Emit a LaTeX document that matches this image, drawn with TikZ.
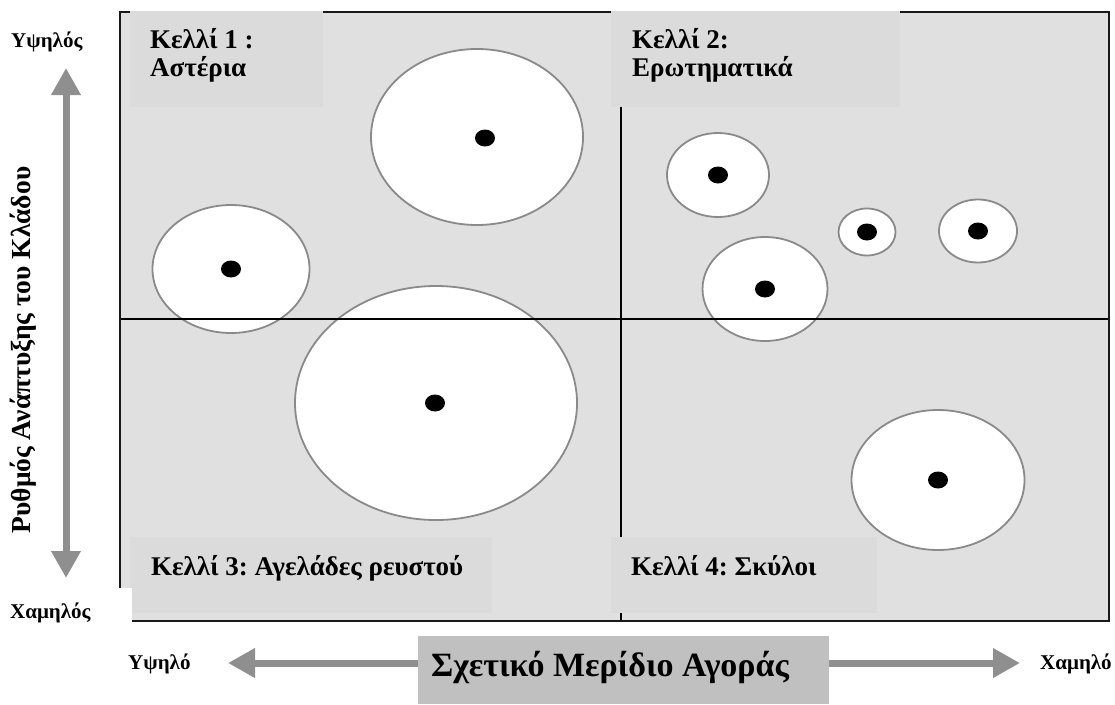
\documentclass[tikz,border=0pt]{standalone}
\usepackage{fontspec}
\setmainfont{Liberation Serif}[BoldFont={Liberation Serif Bold}]
\usetikzlibrary{arrows.meta,shapes.geometric}
\frenchspacing

\definecolor{panel}{HTML}{E0E0E0}
\definecolor{labelbox}{HTML}{DBDBDB}
\definecolor{rim}{HTML}{8A8A8A}
\definecolor{axisgray}{HTML}{8F8F8F}
\definecolor{titlegray}{HTML}{C0C0C0}

\begin{document}
\begin{tikzpicture}[x=1pt,y=-1pt,
  >={Triangle[length=27pt,width=28pt]},
  bubble/.style={ellipse, draw=rim, line width=1.8pt, fill=white, inner sep=0pt},
  seed/.style={ellipse, fill=black, minimum width=20pt, minimum height=17pt, inner sep=0pt},
  cellbox/.style={fill=labelbox},
  celltext/.style={font=\bfseries\fontsize{27}{30}\selectfont, anchor=base west, inner sep=0pt},
  sidetext/.style={font=\bfseries\fontsize{21}{24}\selectfont, anchor=base west, inner sep=0pt},
  axistext/.style={font=\bfseries\fontsize{27.5}{30}\selectfont, inner sep=0pt},
  axis/.style={draw=axisgray, line width=7pt, ->},
  divider/.style={draw=black, line width=2pt}
]
\useasboundingbox (0,0) rectangle (1115,704);

% matrix panel
\fill[panel] (120,12) rectangle (1109,621);

% business units
\node[bubble, minimum width=212, minimum height=176] (u1) at (477,137) {};
\node[bubble, minimum width=157, minimum height=128] (u2) at (231,269) {};
\node[bubble, minimum width=282, minimum height=234] (u3) at (436,403) {};
\node[bubble, minimum width=102, minimum height=84]  (u4) at (718,175) {};
\node[bubble, minimum width=57,  minimum height=47]  (u5) at (867,232) {};
\node[bubble, minimum width=78,  minimum height=63]  (u6) at (978,231) {};
\node[bubble, minimum width=125, minimum height=104] (u7) at (765,289) {};
\node[bubble, minimum width=173, minimum height=140] (u8) at (938,480) {};

\node[seed] (d1) at (485,138) {};
\node[seed] (d2) at (231,269) {};
\node[seed] (d3) at (435,403) {};
\node[seed] (d4) at (718,175) {};
\node[seed] (d5) at (867,232) {};
\node[seed] (d6) at (978,231) {};
\node[seed] (d7) at (765,289) {};
\node[seed] (d8) at (938,480) {};

% quadrant dividers and frame
\draw[divider] (120,319) -- (1109,319);
\draw[divider] (621,12) -- (621,621);
\draw[draw=black!90, line width=2.4pt] (120,12) rectangle (1109,621);

% cell labels
\fill[cellbox] (130,11) rectangle (323,107);
\fill[cellbox] (611,11) rectangle (900,107);
\fill[cellbox] (130,537) rectangle (492,613);
\fill[cellbox] (611,537) rectangle (877,613);

\node[celltext] (c1a) at (150,48) {Κελλί 1 :};
\node[celltext] (c1b) at (150,76) {Αστέρια};
\node[celltext] (c2a) at (632,48) {Κελλί 2:};
\node[celltext] (c2b) at (632,76) {Ερωτηματικά};
\node[celltext] (c3) at (151,575) {Κελλί 3: Αγελάδες ρευστού};
\node[celltext] (c4) at (631,575) {Κελλί 4: Σκύλοι};

% vertical axis
\fill[white] (0,588) rectangle (132,640);
\node[sidetext] (high) at (11,47) {Υψηλός};
\node[sidetext] (low) at (10,618) {Χαμηλός};
\coordinate (vtop) at (66,68);
\coordinate (vbot) at (66,578);
\draw[axis, <->] (vtop) -- (vbot);
\node[axistext, rotate=90] (vlabel) at (23,350) {Ρυθμός Ανάπτυξης του Κλάδου};

% horizontal axis
\node[fill=titlegray, minimum width=411, minimum height=68, inner sep=0pt] (titlebox) at (623.5,670) {};
\node[font=\bfseries\fontsize{34}{38}\selectfont, anchor=base, inner sep=0pt] (title) at (610,676) {Σχετικό Μερίδιο Αγοράς};
\coordinate (hleft) at (228,663);
\coordinate (hright) at (1020,663);
\draw[axis] (titlebox.west |- hleft) -- (hleft);
\draw[axis] (titlebox.east |- hright) -- (hright);
\node[sidetext] (hhigh) at (128,669) {Υψηλό};
\node[sidetext] (hlow) at (1040,669) {Χαμηλό};
\end{tikzpicture}
\end{document}
